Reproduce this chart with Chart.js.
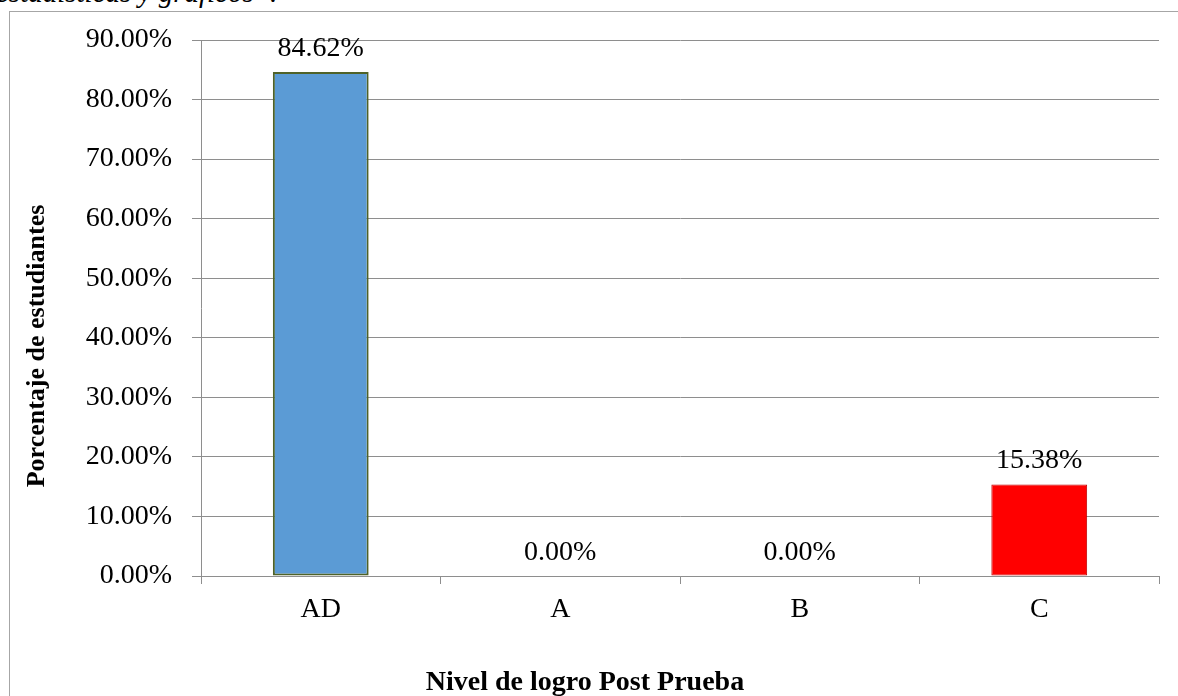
<!DOCTYPE html>
<html>
<head>
<meta charset="utf-8">
<script src="https://cdn.jsdelivr.net/npm/chart.js@4.4.1/dist/chart.umd.min.js"></script>
<style>
  html, body { margin: 0; padding: 0; background: #fff; overflow: hidden; }
  body { width: 1178px; height: 696px; position: relative; }
  #caption {
    position: absolute; left: -4px; top: -24px;
    font: italic 29px "Liberation Serif", "Times New Roman", serif;
    color: #000; white-space: nowrap;
  }
  #frame {
    position: absolute; left: 9px; top: 11px; width: 1300px; height: 800px;
    border: 1px solid #a6a6a6; box-sizing: border-box;
  }
  #wrap { position: absolute; left: 0; top: 0; width: 1178px; height: 696px; }
</style>
</head>
<body>
<div id="caption">estadísticas y gráficos”.</div>
<div id="frame"></div>
<div id="wrap"><canvas id="c" width="1178" height="696"></canvas></div>
<script>
// Nivel de logro - post prueba
const categories = ["AD", "A", "B", "C"];
const percentages = [84.62, 0, 0, 15.38];
const barColors = ["#5b9bd5", "#5b9bd5", "#5b9bd5", "#ff0000"];
const barBorders = ["#4f6228", "#4f6228", "#4f6228", "#c00000"];
const yTicks = [0, 10, 20, 30, 40, 50, 60, 70, 80, 90];
const yTitle = "Porcentaje de estudiantes";
const xTitle = "Nivel de logro Post Prueba";

const SERIF = '"Liberation Serif", "Times New Roman", serif';
const GRID = "#8e8e8e";

const fmt = v => v.toFixed(2) + "%";

// value labels above each bar
const valueLabels = {
  id: "valueLabels",
  afterDatasetsDraw(chart) {
    const ctx = chart.ctx;
    const meta = chart.getDatasetMeta(0);
    ctx.save();
    ctx.font = "28px " + SERIF;
    ctx.fillStyle = "#000";
    ctx.textAlign = "center";
    ctx.textBaseline = "alphabetic";
    meta.data.forEach((bar, i) => {
      ctx.fillText(fmt(percentages[i]), bar.x, bar.y - 16);
    });
    ctx.restore();
  }
};

// axis titles
const axisTitles = {
  id: "axisTitles",
  afterDraw(chart) {
    const ctx = chart.ctx;
    const a = chart.chartArea;
    ctx.save();
    ctx.fillStyle = "#000";
    ctx.textAlign = "center";
    ctx.textBaseline = "middle";
    ctx.save();
    ctx.font = "bold 26px " + SERIF;
    ctx.translate(37, (a.top + a.bottom) / 2 + 38);
    ctx.rotate(-Math.PI / 2);
    ctx.fillText(yTitle, 0, 0);
    ctx.restore();
    ctx.font = "bold 28px " + SERIF;
    ctx.fillText(xTitle, (a.left + a.right) / 2 - 95, a.bottom + 107);
    ctx.restore();
  }
};

new Chart(document.getElementById("c"), {
  type: "bar",
  data: {
    labels: categories,
    datasets: [{
      data: percentages,
      backgroundColor: barColors,
      borderColor: barBorders,
      borderWidth: ctx => (percentages[ctx.dataIndex] > 0 ? (ctx.dataIndex === 0 ? 2 : 1) : 0),
      borderSkipped: false,
      barPercentage: 0.4,
      categoryPercentage: 1.0
    }]
  },
  options: {
    responsive: false,
    animation: false,
    layout: { padding: { left: 0, right: 19, top: 40, bottom: 0 } },
    plugins: { legend: { display: false }, tooltip: { enabled: false } },
    scales: {
      x: {
        offset: true,
        grid: {
          offset: true,
          drawOnChartArea: false,
          drawTicks: true,
          tickLength: 8,
          color: GRID
        },
        border: { color: GRID, width: 1 },
        ticks: {
          color: "#000",
          font: { family: SERIF, size: 28 },
          padding: 9
        },
        afterFit(scale) { scale.height = 120; }
      },
      y: {
        min: 0,
        max: 90,
        afterBuildTicks(scale) { scale.ticks = yTicks.map(v => ({ value: v })); },
        grid: { color: GRID, tickLength: 9, drawTicks: true },
        border: { color: GRID, width: 1 },
        ticks: {
          color: "#000",
          font: { family: SERIF, size: 28 },
          padding: 20,
          callback: v => fmt(v)
        },
        afterFit(scale) { scale.width = 201; }
      }
    }
  },
  plugins: [valueLabels, axisTitles]
});
</script>
</body>
</html>
